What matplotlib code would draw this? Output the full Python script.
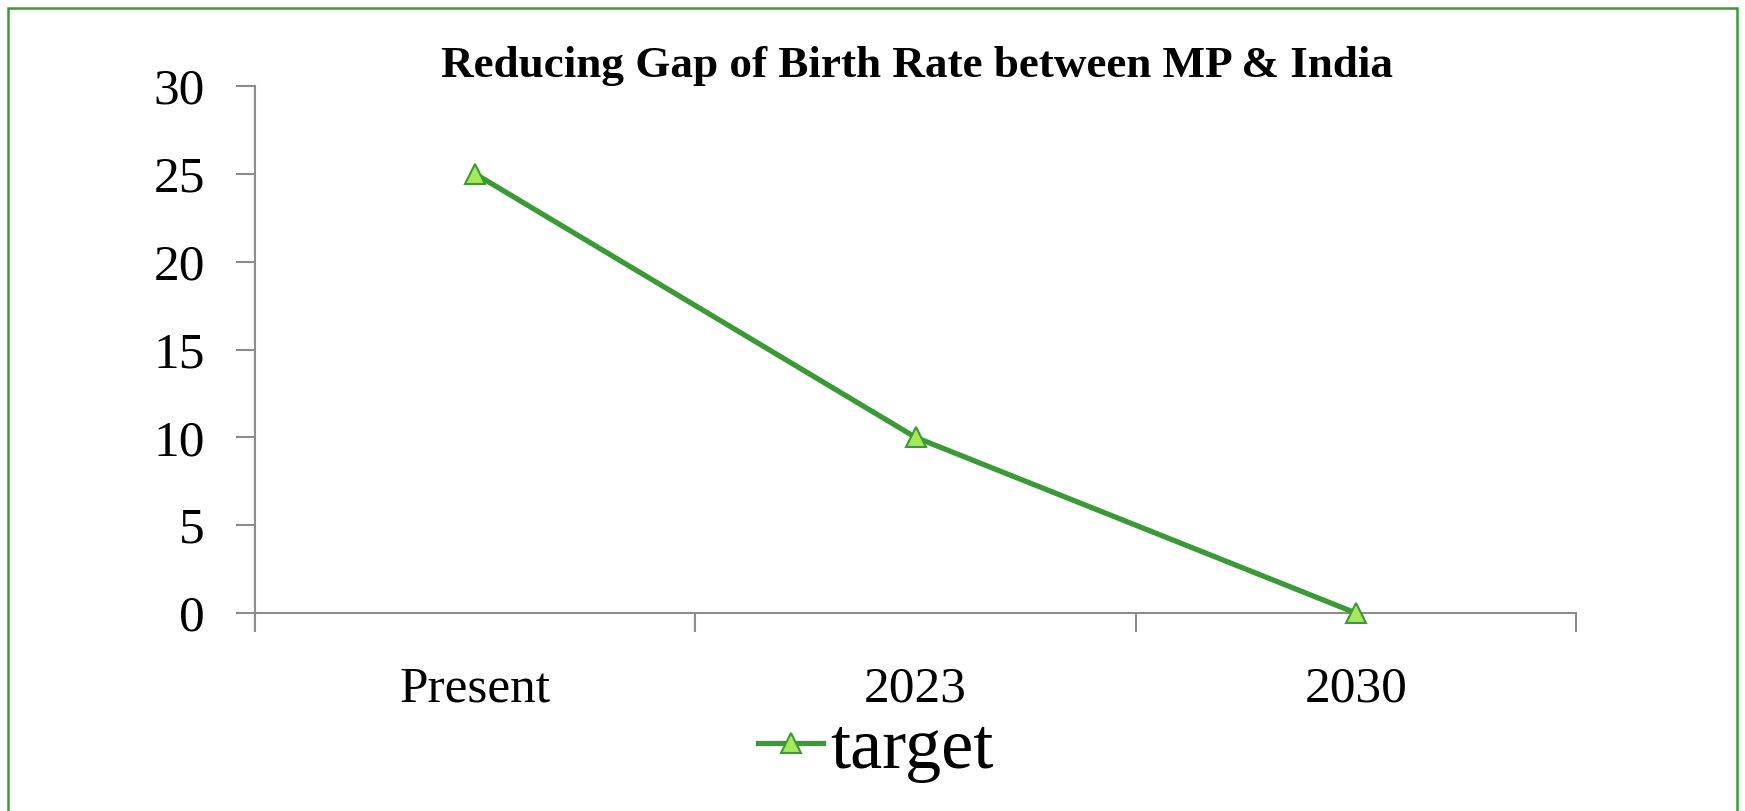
import matplotlib as mpl
import matplotlib.pyplot as plt
from matplotlib.patches import Rectangle

categories = ['Present', '2023', '2030']
target = [25, 10, 0]
yticks = [0, 5, 10, 15, 20, 25, 30]

mpl.rcParams['font.family'] = 'Liberation Serif'

W, H = 1745, 811
fig = plt.figure(figsize=(W / 100, H / 100), dpi=100)

# green frame around the whole chart (bottom edge runs off the image)
fig.patches.append(Rectangle((8 / W, -0.05), (1737 - 8) / W, 1.05 - 8 / H,
                             transform=fig.transFigure, fill=False,
                             edgecolor='#3a9a35', linewidth=1.8))

ax = fig.add_axes([255 / W, 1 - 613 / H, (1576 - 255) / W, (613 - 86) / H])
x = range(len(categories))
ax.plot(x, target, color='#3a9a35', linewidth=3.8, marker='^', markersize=15,
        markerfacecolor='#a6e85a', markeredgecolor='#3a9a35', markeredgewidth=1.5,
        label='target', clip_on=False, zorder=3)

ax.set_xlim(-0.5, 2.5)
ax.set_ylim(0, 30)
ax.set_yticks(yticks)
ax.set_xticks([-0.5, 0.5, 1.5, 2.5])
ax.set_xticklabels([])
ax.set_xticks(list(x), minor=True)
ax.set_xticklabels(categories, minor=True)

for s in ['top', 'right']:
    ax.spines[s].set_visible(False)
for s in ['left', 'bottom']:
    ax.spines[s].set_color('#8c8c8c')
    ax.spines[s].set_linewidth(1.5)

ax.tick_params(axis='y', which='major', labelsize=37, length=14, width=1.5,
               color='#8c8c8c', pad=22)
ax.tick_params(axis='x', which='major', length=14, width=1.5, color='#8c8c8c')
ax.tick_params(axis='x', which='minor', length=0, labelsize=37, pad=38)

fig.text(917 / W, 1 - 66 / H, 'Reducing Gap of Birth Rate between MP & India',
         ha='center', va='center', fontsize=32.5, fontweight='bold')

fig.legend(loc='center', bbox_to_anchor=(876 / W, 1 - 750 / H), frameon=False,
           fontsize=52, handlelength=0.9, handletextpad=0.1, borderpad=0)

fig.savefig('out.png', dpi=100)
